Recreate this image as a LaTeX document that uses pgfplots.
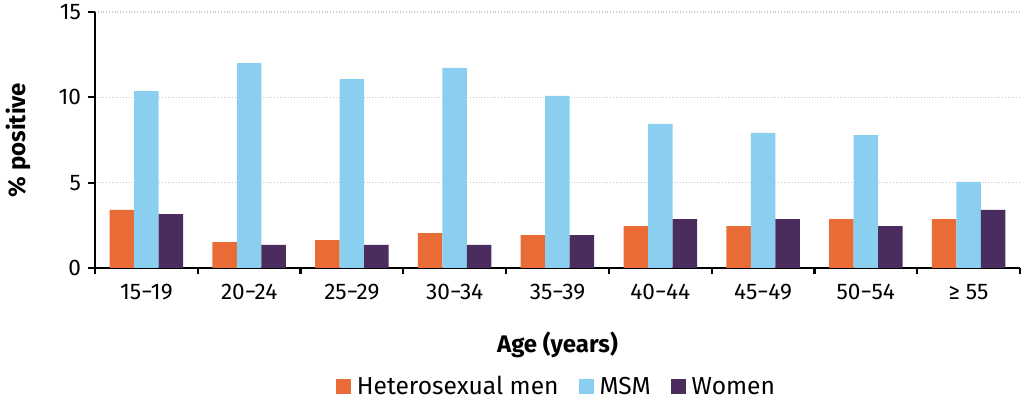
\documentclass[border=0pt]{standalone}
\usepackage{fontspec}
\setmainfont{Fira Sans}
\usepackage{pgfplots}
\pgfplotsset{compat=1.18}
\definecolor{cOr}{HTML}{E96B35}
\definecolor{cBl}{HTML}{8ACFF0}
\definecolor{cPu}{HTML}{4A2D5E}
\begin{document}
\begin{tikzpicture}
\begin{axis}[
  at={(0,0)}, anchor=south west,
  scale only axis, width=462.5pt, height=128pt,
  ybar=0pt, bar width=12.25pt,
  xmin=-0.5, xmax=8.5, ymin=0, ymax=15,
  axis x line*=bottom, axis y line*=left,
  axis line style={line width=1.1pt, -},
  xtick={0,...,8},
  xticklabels={15−19,20−24,25−29,30−34,35−39,40−44,45−49,50−54,≥ 55},
  major x tick style={draw=none},
  minor xtick={-0.5,0.5,...,8.5},
  minor x tick style={line width=1.1pt, black},
  minor tick length=3pt,
  ytick={0,5,10,15},
  major y tick style={line width=1.1pt, black},
  major tick length=3.5pt,
  tick align=outside,
  ymajorgrids,
  major y grid style={densely dotted, gray!40, line width=0.6pt},
  /pgf/number format/assume math mode=true,
  tick label style={font=\fontsize{11.3}{13}\selectfont},
  xticklabel style={yshift=-1pt},
  ylabel={\textbf{\% positive}},
  ylabel style={font=\fontsize{12}{14}\selectfont, at={(axis description cs:-0.0832,0.5)}, anchor=center},
  xlabel={\textbf{Age (years)}},
  xlabel style={font=\fontsize{12}{14}\selectfont, at={(axis description cs:0.5,-0.3008)}, anchor=center},
  legend style={at={(axis description cs:0.5,-0.465)}, anchor=center, draw=none, legend columns=-1,
    font=\fontsize{12.3}{14}\selectfont,
    /tikz/every odd column/.append style={column sep=1pt},
    /tikz/every even column/.append style={column sep=8pt}},
  legend image code/.code={\fill[#1] (0pt,-3.7pt) rectangle (7.5pt,3.8pt);},
  legend cell align=left,
]
\addplot[fill=cOr, draw=none] coordinates {(0,3.40) (1,1.52) (2,1.64) (3,2.05) (4,1.93) (5,2.46) (6,2.46) (7,2.87) (8,2.87)};
\addplot[fill=cBl, draw=none] coordinates {(0,10.37) (1,12.0) (2,11.07) (3,11.72) (4,10.08) (5,8.44) (6,7.91) (7,7.79) (8,5.04)};
\addplot[fill=cPu, draw=none] coordinates {(0,3.16) (1,1.35) (2,1.35) (3,1.35) (4,1.93) (5,2.87) (6,2.87) (7,2.46) (8,3.40)};
\legend{Heterosexual men, MSM, Women}
\end{axis}
\pgfresetboundingbox
\path (-47.5pt,-69pt) rectangle (465pt,134pt);
\end{tikzpicture}
\end{document}
